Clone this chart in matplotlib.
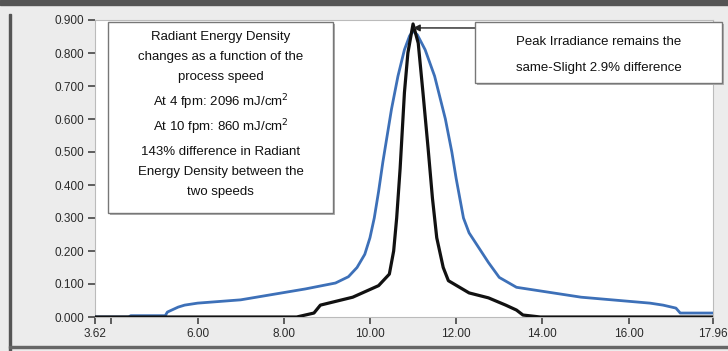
import numpy as np
import matplotlib.pyplot as plt
from matplotlib.patches import Rectangle

plt.rcParams['font.family'] = ['Liberation Sans', 'DejaVu Sans']

# blue curve (10 fpm, wider pulse)
blue_x = [3.62, 4.40, 4.45, 5.25, 5.30, 5.55, 5.70, 6.00, 7.00, 8.50, 9.20, 9.50, 9.70,
          9.88, 10.00, 10.10, 10.20, 10.30, 10.50, 10.65, 10.80, 10.92, 11.00, 11.10,
          11.28, 11.50, 11.75, 11.90, 12.00, 12.17, 12.30, 12.50, 12.75, 13.00, 13.40,
          14.90, 16.50, 16.80, 17.10, 17.20, 17.96]
blue_y = [0.000, 0.000, 0.004, 0.004, 0.015, 0.030, 0.036, 0.042, 0.052, 0.085, 0.103,
          0.122, 0.150, 0.190, 0.240, 0.300, 0.380, 0.470, 0.630, 0.730, 0.810, 0.852,
          0.866, 0.855, 0.810, 0.730, 0.600, 0.500, 0.420, 0.300, 0.255, 0.215, 0.165,
          0.120, 0.090, 0.060, 0.042, 0.036, 0.027, 0.012, 0.012]

# black curve (4 fpm, narrow pulse)
black_x = [3.62, 8.30, 8.70, 8.85, 9.60, 10.20, 10.45, 10.55, 10.62, 10.70, 10.80, 10.88,
           11.00, 11.12, 11.23, 11.35, 11.45, 11.55, 11.70, 11.82, 12.30, 12.75, 13.15,
           13.40, 13.55, 13.95, 17.96]
black_y = [0.000, 0.000, 0.012, 0.036, 0.060, 0.095, 0.130, 0.200, 0.300, 0.450, 0.680,
           0.800, 0.888, 0.830, 0.680, 0.510, 0.360, 0.240, 0.150, 0.110, 0.073, 0.058,
           0.036, 0.021, 0.006, 0.000, 0.000]

yticks = [0.0, 0.1, 0.2, 0.3, 0.4, 0.5, 0.6, 0.7, 0.8, 0.9]
xticks = [3.62, 4, 6, 8, 10, 12, 14, 16, 17.96]
xlabels = ['3.62', '', '6.00', '8.00', '10.00', '12.00', '14.00', '16.00', '17.96']

box1_lines = ['Radiant Energy Density', 'changes as a function of the', 'process speed',
              'At 4 fpm: 2096 mJ/cm$^2$', 'At 10 fpm: 860 mJ/cm$^2$',
              '143% difference in Radiant', 'Energy Density between the', 'two speeds']
box2_lines = ['Peak Irradiance remains the', 'same-Slight 2.9% difference']

W, H = 728, 351
fig = plt.figure(figsize=(W / 100, H / 100), dpi=100, facecolor='#ececec')
ax = fig.add_axes([95 / W, 1 - 317 / H, 618 / W, 297 / H])
ax.set_facecolor('white')

ax.plot(blue_x, blue_y, color='#3d70b8', lw=2.0, zorder=3, solid_joinstyle='round')
ax.plot(black_x, black_y, color='#111111', lw=2.3, zorder=4, solid_joinstyle='round')

ax.set_xlim(3.62, 17.96)
ax.set_ylim(0, 0.9)
ax.set_yticks(yticks)
ax.set_yticklabels(['%.3f' % v for v in yticks])
ax.set_xticks(xticks)
ax.set_xticklabels(xlabels)
ax.tick_params(axis='both', labelsize=8.5, labelcolor='#2a2a2a', color='#444444',
               length=5, width=1.2, direction='out', pad=3)
for s in ax.spines.values():
    s.set_color('#bbbbbb')
    s.set_linewidth(0.8)

# outer frame
fig.patches.append(Rectangle((0, 1 - 5 / H), 1, 5 / H, transform=fig.transFigure,
                             color='#555555', zorder=0))
fig.patches.append(Rectangle((9 / W, 0), 2 / W, 1 - 14 / H, transform=fig.transFigure,
                             color='#555555', zorder=0))
fig.patches.append(Rectangle((9 / W, 3 / H), 1 - 9 / W, 2 / H, transform=fig.transFigure,
                             color='#666666', zorder=0))


def text_box(x0, x1, y0, y1, lines, ys):
    # shadow then box
    fig.add_artist(Rectangle((x0 / W + 2 / W, 1 - y1 / H - 2 / H), (x1 - x0) / W, (y1 - y0) / H,
                             transform=fig.transFigure, facecolor='#b0b0b0',
                             edgecolor='none', zorder=5))
    fig.add_artist(Rectangle((x0 / W, 1 - y1 / H), (x1 - x0) / W, (y1 - y0) / H,
                             transform=fig.transFigure, facecolor='white',
                             edgecolor='#777777', lw=1.0, zorder=6))
    xc = (x0 + x1) / 2 / W
    for t, yy in zip(lines, ys):
        fig.text(xc, 1 - yy / H, t, ha='center', va='center', fontsize=9.5,
                 color='#111111', zorder=7)


text_box(108, 333, 22, 213, box1_lines, [37, 57, 77, 102, 127, 152, 172, 192])
text_box(475, 722, 22, 83, box2_lines, [42, 68])

ax.annotate('', xy=(11.0, 0.876), xycoords='data',
            xytext=(475 / W, 1 - 28 / H), textcoords='figure fraction',
            arrowprops=dict(arrowstyle='-|>', color='#222222', lw=1.0,
                            mutation_scale=10, shrinkA=0, shrinkB=0),
            annotation_clip=False, zorder=8)

fig.savefig('out.png', dpi=100, facecolor=fig.get_facecolor())
